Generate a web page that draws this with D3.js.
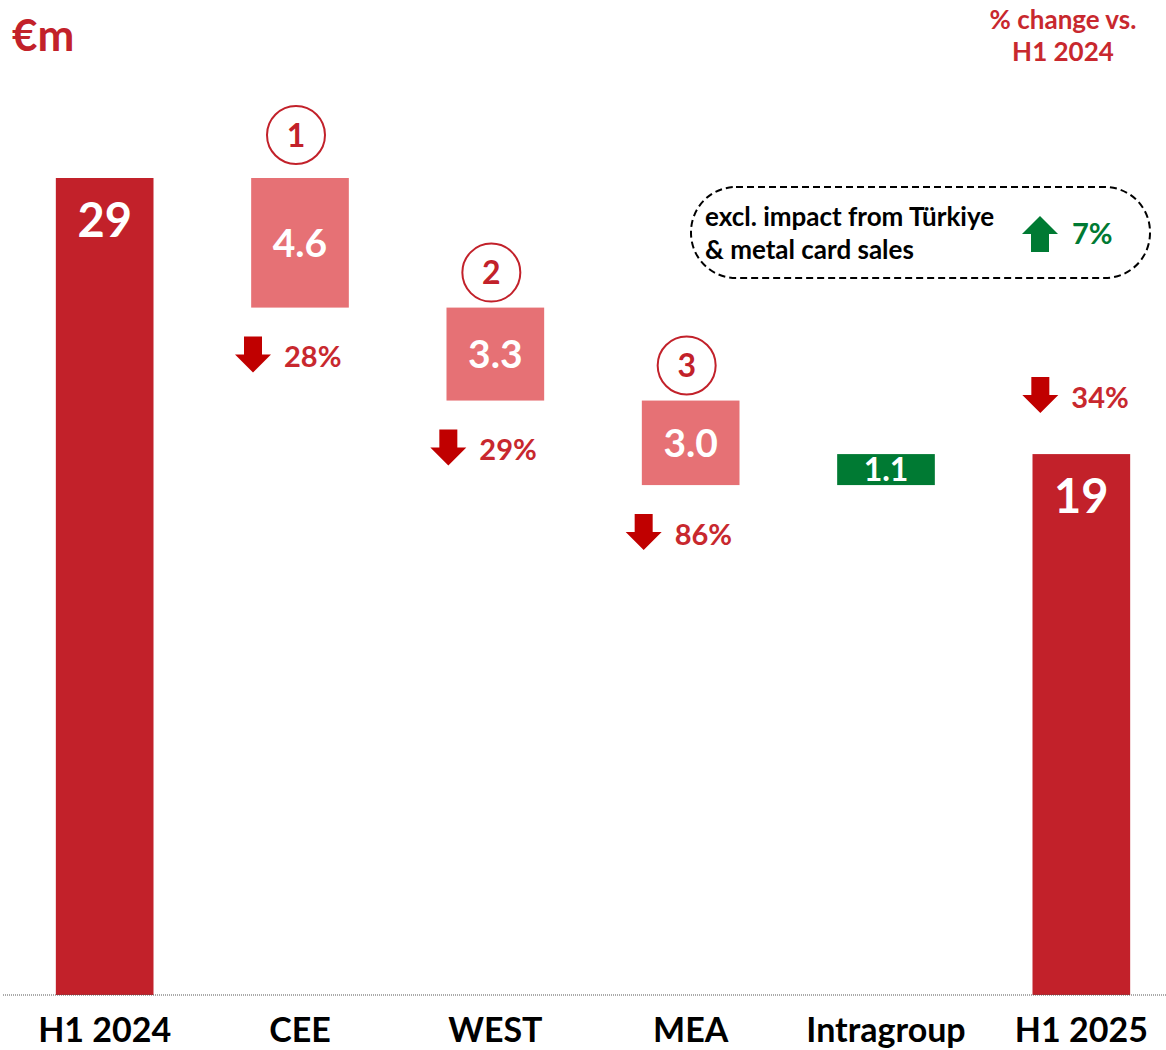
<!DOCTYPE html>
<html>
<head>
<meta charset="utf-8">
<script src="https://cdn.jsdelivr.net/npm/d3@7"></script>
<style>
  body { margin: 0; background: #fff; }
  text { font-family: Lato, "Open Sans", sans-serif; font-weight: 700; }
</style>
</head>
<body>
<div id="graf"></div>
<script>
// Datos
const categories = ["H1 2024", "CEE", "WEST", "MEA", "Intragroup", "H1 2025"]
const values = [29, -4.6, -3.3, -3.0, 1.1, 19.2]
const kinds = ["total", "delta", "delta", "delta", "delta", "total"]
const valueLabels = ["29", "4.6", "3.3", "3.0", "1.1", "19"]
const pctChange = [null, "28%", "29%", "86%", null, "34%"]
const markers = [null, "1", "2", "3", null, null]

// Colores
const rojo = "#c2212a"
const rosa = "#e67175"
const verde = "#007a33"
const rojoFlecha = "#c00000"
const rojoTexto = "#c8282e"

// Dimensiones
const anchoTotal = 1166
const altoTotal = 1050

const svg = d3.select("#graf")
  .append("svg")
  .attr("width", anchoTotal)
  .attr("height", altoTotal)

// Calcular escalones de la cascada
let acumulado = 0
const data = categories.map((c, i) => {
  let y0, y1
  if (kinds[i] === "total") {
    y0 = 0
    y1 = values[i]
    acumulado = values[i]
  } else {
    y0 = acumulado
    y1 = acumulado + values[i]
    acumulado = y1
  }
  return {
    cat: c,
    kind: kinds[i],
    value: values[i],
    low: Math.min(y0, y1),
    high: Math.max(y0, y1),
    label: valueLabels[i],
    pct: pctChange[i],
    marker: markers[i]
  }
})

// Escaladores
const x = d3.scaleBand()
  .domain(categories)
  .range([7, 1179])
  .paddingInner(0.5)
  .paddingOuter(0.25)

const y = d3.scaleLinear()
  .domain([0, 29])
  .range([995, 178])

const color = (d) => d.kind === "total" ? rojo : (d.value < 0 ? rosa : verde)

// Barras
svg.selectAll(".bar")
  .data(data)
  .enter()
  .append("rect")
  .attr("class", "bar")
  .attr("x", (d) => x(d.cat))
  .attr("width", x.bandwidth())
  .attr("y", (d) => y(d.high))
  .attr("height", (d) => y(d.low) - y(d.high))
  .attr("fill", color)

// Etiquetas de valores
svg.selectAll(".valor")
  .data(data)
  .enter()
  .append("text")
  .attr("class", "valor")
  .attr("x", (d) => x(d.cat) + x.bandwidth() / 2)
  .attr("y", (d) => d.kind === "total" ? y(d.high) + 42 : (y(d.high) + y(d.low)) / 2)
  .attr("dy", "0.36em")
  .attr("text-anchor", "middle")
  .attr("fill", "white")
  .attr("font-size", (d) => d.kind === "total" ? 47 : (y(d.low) - y(d.high) < 40 ? 32 : 39))
  .text((d) => d.label)

// Eje x
const xAxis = svg.append("g")
  .attr("transform", "translate(0, 995)")
  .call(d3.axisBottom(x).tickSize(0).tickPadding(24))

xAxis.select(".domain").remove()
xAxis.append("line")
  .attr("x1", 3)
  .attr("x2", anchoTotal)
  .attr("stroke", "#555")
  .attr("stroke-width", 1)
  .attr("stroke-dasharray", "1,1")

xAxis.selectAll(".tick text")
  .attr("font-family", "Lato, sans-serif")
  .attr("font-weight", 700)
  .attr("font-size", 34)
  .attr("fill", "#000")
  .attr("dy", "0.68em")

// Círculos numerados
const marcas = svg.selectAll(".marca")
  .data(data.filter((d) => d.marker))
  .enter()
  .append("g")
  .attr("class", "marca")
  .attr("transform", (d, i) => {
    const cx = x(d.cat) + x.bandwidth() / 2 - 4
    const cy = y(d.high) - (i === 0 ? 43 : 35)
    return `translate(${cx}, ${cy})`
  })

marcas.append("circle")
  .attr("r", 29)
  .attr("fill", "white")
  .attr("stroke", rojo)
  .attr("stroke-width", 2)

marcas.append("text")
  .attr("text-anchor", "middle")
  .attr("dy", "0.36em")
  .attr("font-size", 32)
  .attr("fill", rojo)
  .text((d) => d.marker)

// Flechas
const flechaAbajo = "M-9,0 H9 V18 H18 L0,36 L-18,18 H-9 Z"
const flechaArriba = "M-9,36 H9 V18 H18 L0,0 L-18,18 H-9 Z"

const cambios = svg.selectAll(".cambio")
  .data(data.filter((d) => d.pct))
  .enter()
  .append("g")
  .attr("class", "cambio")
  .attr("transform", (d) => {
    const cx = x(d.cat) + x.bandwidth() / 2 + (d.kind === "total" ? -41 : -47)
    const top = d.kind === "total" ? y(d.high) - 77 : y(d.low) + 29
    return `translate(${cx}, ${top})`
  })

cambios.append("path")
  .attr("d", flechaAbajo)
  .attr("fill", rojoFlecha)

cambios.append("text")
  .attr("x", 31)
  .attr("y", 20)
  .attr("dy", "0.36em")
  .attr("font-size", 29)
  .attr("fill", rojoTexto)
  .text((d) => d.pct)

// Títulos
svg.append("text")
  .attr("x", 12)
  .attr("y", 51)
  .attr("font-size", 44)
  .attr("fill", rojo)
  .text("€m")

const nota = svg.append("text")
  .attr("text-anchor", "middle")
  .attr("font-size", 26)
  .attr("fill", rojoTexto)

nota.append("tspan").attr("x", 1063).attr("y", 29).text("% change vs.")
nota.append("tspan").attr("x", 1063).attr("y", 61).text("H1 2024")

// Recuadro excl. Türkiye
const caja = svg.append("g")

caja.append("rect")
  .attr("x", 691)
  .attr("y", 187)
  .attr("width", 459)
  .attr("height", 91)
  .attr("rx", 45)
  .attr("ry", 45)
  .attr("fill", "none")
  .attr("stroke", "#000")
  .attr("stroke-width", 2)
  .attr("stroke-dasharray", "7,4")

const textoCaja = caja.append("text")
  .attr("font-size", 26)
  .attr("fill", "#000")

textoCaja.append("tspan").attr("x", 705).attr("y", 226).text("excl. impact from Türkiye")
textoCaja.append("tspan").attr("x", 705).attr("y", 259).text("& metal card sales")

caja.append("path")
  .attr("d", flechaArriba)
  .attr("transform", "translate(1040, 216)")
  .attr("fill", verde)

caja.append("text")
  .attr("x", 1072)
  .attr("y", 234)
  .attr("dy", "0.36em")
  .attr("font-size", 29)
  .attr("fill", verde)
  .text("7%")
</script>
</body>
</html>
